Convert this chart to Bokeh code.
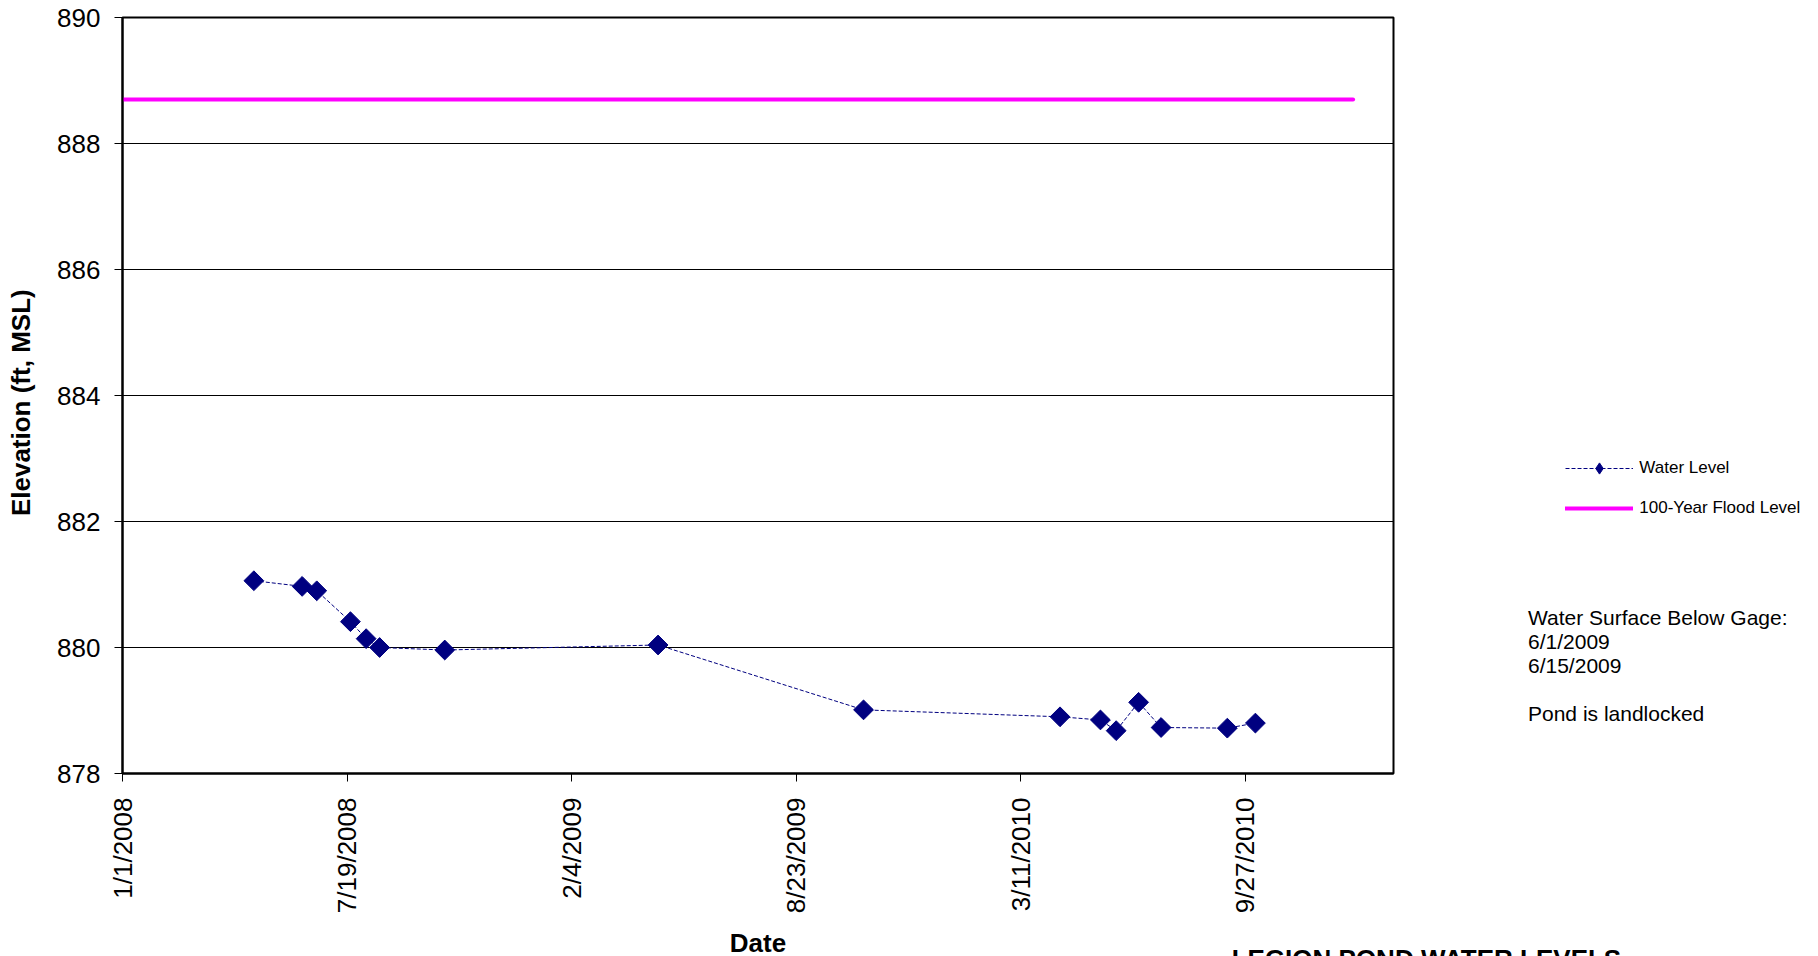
import pandas as pd
from math import pi
from bokeh.plotting import figure
from bokeh.models import Range1d, FixedTicker, Legend, LegendItem
from bokeh.embed import file_html
from bokeh.resources import INLINE

# ---------------- data ----------------
sample_dates = ["2008-04-27", "2008-06-09", "2008-06-22", "2008-07-22", "2008-08-05",
                "2008-08-17", "2008-10-14", "2009-04-22", "2009-10-22", "2010-04-15",
                "2010-05-21", "2010-06-04", "2010-06-24", "2010-07-14", "2010-09-11",
                "2010-10-06"]
water_level = [881.06, 880.97, 880.90, 880.41, 880.14, 880.00, 879.96, 880.04,
               879.01, 878.90, 878.85, 878.68, 879.13, 878.73, 878.72, 878.80]

flood_dates = ["2008-01-01", "2011-01-01"]
flood_level = [888.70, 888.70]

x_tick_labels = ["1/1/2008", "7/19/2008", "2/4/2009", "8/23/2009", "3/11/2010", "9/27/2010"]
y_ticks = [878, 880, 882, 884, 886, 888, 890]
x_axis_start = "2008-01-01"
x_axis_end = "2011-02-06"

note_lines = ["Water Surface Below Gage:", "6/1/2009", "6/15/2009", " ", "Pond is landlocked"]
chart_title = "LEGION POND WATER LEVELS"


def to_ms(values):
    idx = pd.to_datetime(values)
    return [float(v) for v in (idx - pd.Timestamp("1970-01-01")) // pd.Timedelta(milliseconds=1)]


x_water = to_ms(sample_dates)
x_flood = to_ms(flood_dates)
x_ticks = to_ms(pd.to_datetime(x_tick_labels, format="%m/%d/%Y").strftime("%Y-%m-%d").tolist())
x0, x1 = to_ms([x_axis_start, x_axis_end])

FONT = "Liberation Sans"
NAVY = "#000080"
MAGENTA = "#FF00FF"

p = figure(frame_width=1271, frame_height=756, output_backend="svg", toolbar_location=None,
           x_range=Range1d(x0, x1), y_range=Range1d(878, 890), title=None,
           min_border_left=122, min_border_right=0, min_border_top=17, min_border_bottom=183)
p.background_fill_color = "white"
p.border_fill_color = "white"
p.outline_line_color = "black"
p.outline_line_width = 2

p.xgrid.visible = False
p.ygrid.grid_line_color = "black"
p.ygrid.grid_line_width = 1

p.yaxis.ticker = FixedTicker(ticks=y_ticks)
p.xaxis.ticker = FixedTicker(ticks=x_ticks)
p.xaxis.major_label_overrides = dict(zip(x_ticks, x_tick_labels))
p.xaxis.major_label_orientation = pi / 2

for ax in (p.xaxis, p.yaxis):
    ax.axis_line_color = "black"
    ax.axis_line_width = 2
    ax.major_tick_line_color = "black"
    ax.major_tick_line_width = 1
    ax.major_tick_out = 8
    ax.major_tick_in = 0
    ax.minor_tick_line_color = None
    ax.major_label_text_font = FONT
    ax.major_label_text_font_size = "26px"
    ax.major_label_text_color = "black"
    ax.axis_label_text_font = FONT
    ax.axis_label_text_font_size = "26px"
    ax.axis_label_text_font_style = "bold"
    ax.axis_label_text_color = "black"
p.xaxis.major_label_standoff = 16
p.yaxis.major_label_standoff = 14
p.xaxis.axis_label = "Date"
p.yaxis.axis_label = "Elevation (ft, MSL)\u00a0\u00a0"
p.xaxis.axis_label_standoff = 12
p.yaxis.axis_label_standoff = 18

flood_r = p.line(x_flood, flood_level, line_color=MAGENTA, line_width=4, line_cap="round")
water_line = p.line(x_water, water_level, line_color=NAVY, line_width=1, line_dash="4 2")
water_pts = p.scatter(x_water, water_level, marker="square", size=14, angle=pi / 4,
                      fill_color=NAVY, line_color=NAVY)
# legend-only proxies (not shown in the plot area)
legend_marker = p.scatter(x_water, water_level, marker="diamond", fill_color=NAVY,
                          line_color=NAVY, visible=False)
blank = p.line(x_water, water_level, line_alpha=0, visible=False)

common = dict(orientation="vertical", padding=0, margin=0, border_line_color=None,
              background_fill_alpha=0, label_text_font=FONT, label_text_color="black",
              inactive_fill_alpha=0)

# right-side panels, stacked outward from the frame: notes, series legend, title
notes_legend = Legend(items=[LegendItem(label=t, renderers=[blank]) for t in note_lines],
                      location=(135, 47), glyph_width=0, glyph_height=24, label_height=24,
                      label_width=300, label_standoff=0, spacing=0,
                      label_text_font_size="21px", **common)
series_legend = Legend(items=[LegendItem(label="Water Level", renderers=[water_line, legend_marker]),
                              LegendItem(label="100-Year Flood Level", renderers=[flood_r])],
                       location=(-605, 251), glyph_width=68, glyph_height=28, label_height=20,
                       label_width=200, label_standoff=6, spacing=12,
                       label_text_font_size="17px", **common)
title_legend = Legend(items=[LegendItem(label=chart_title, renderers=[blank])],
                      location=(-1690, -202), glyph_width=0, glyph_height=32, label_height=32,
                      label_width=420, label_standoff=0, spacing=0,
                      label_text_font_size="26px", label_text_font_style="bold", **common)
p.add_layout(notes_legend, "right")
p.add_layout(series_legend, "right")
p.add_layout(title_legend, "right")

open("out.html", "w").write(file_html(p, INLINE))
